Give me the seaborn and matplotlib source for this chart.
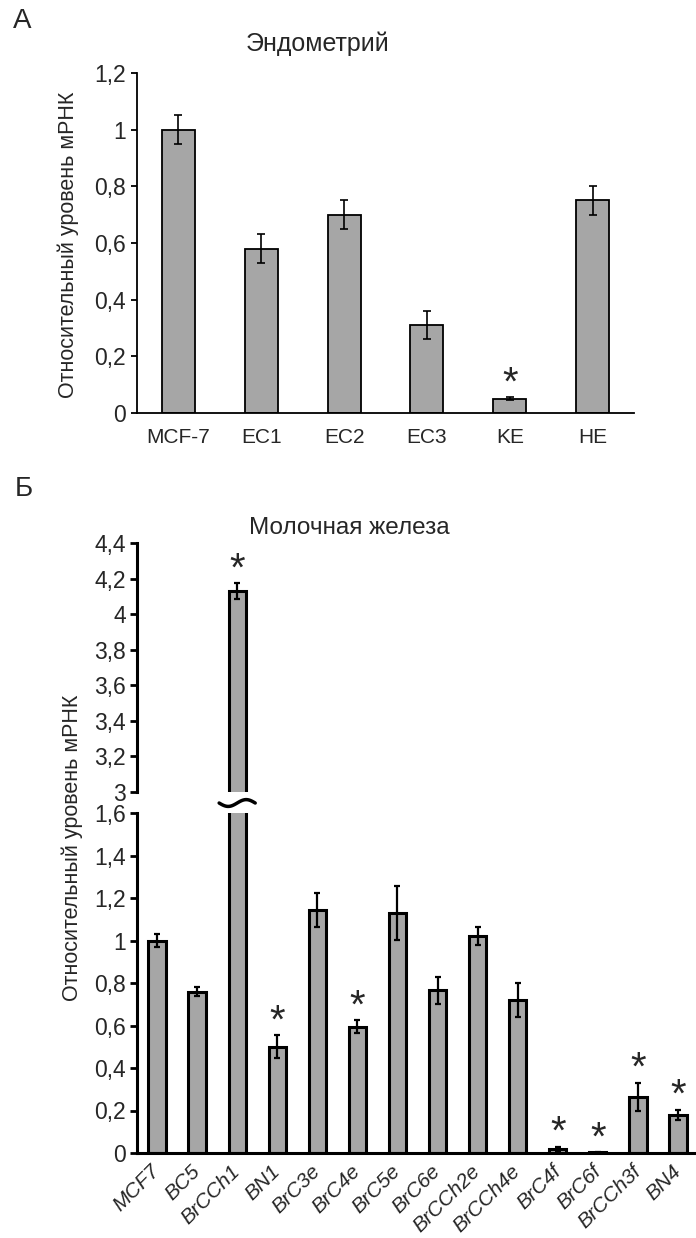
import numpy as np
import pandas as pd
import matplotlib
matplotlib.use("Agg")
import matplotlib.pyplot as plt
from matplotlib.ticker import FixedLocator, FuncFormatter
import seaborn as sns

# ---------------- data ----------------
endo_labels = ["MCF-7", "EC1", "EC2", "EC3", "KE", "HE"]
endo_values = [1.00, 0.58, 0.70, 0.31, 0.05, 0.75]
endo_errors = [0.05, 0.05, 0.05, 0.05, 0.005, 0.05]
endo_signif = [False, False, False, False, True, False]

breast_labels = ["MCF7", "BC5", "BrCCh1", "BN1", "BrC3e", "BrC4e", "BrC5e",
                 "BrC6e", "BrCCh2e", "BrCCh4e", "BrC4f", "BrC6f", "BrCCh3f", "BN4"]
breast_values = [1.00, 0.76, 4.13, 0.50, 1.145, 0.595, 1.13,
                 0.765, 1.02, 0.72, 0.02, 0.003, 0.263, 0.18]
breast_errors = [0.03, 0.02, 0.045, 0.053, 0.08, 0.03, 0.127,
                 0.063, 0.043, 0.08, 0.01, 0.001, 0.067, 0.024]
breast_signif = [False, False, True, True, False, True, False,
                 False, False, False, True, True, True, True]

endo_yticks = [0, 0.2, 0.4, 0.6, 0.8, 1.0, 1.2]
low_yticks = [0, 0.2, 0.4, 0.6, 0.8, 1.0, 1.2, 1.4, 1.6]
up_yticks = [3.0, 3.2, 3.4, 3.6, 3.8, 4.0, 4.2, 4.4]

title_endo = "Эндометрий"
title_breast = "Молочная железа"
ylabel = "Относительный уровень мРНК"

# ---------------- style ----------------
sns.set_style("white")
plt.rcParams["font.family"] = ["Liberation Sans", "DejaVu Sans"]

BAR = "#a6a6a6"
W, H = 696, 1238
fig = plt.figure(figsize=(W / 100, H / 100), dpi=100)


def fx(px):
    return px / W


def fy(py):
    return 1 - py / H


comma = FuncFormatter(lambda v, p: f"{round(v, 3):g}".replace(".", ","))

# ---------------- panel A ----------------
axA = fig.add_axes([fx(137), fy(413), fx(634 - 137), (413 - 73) / H])
dfA = pd.DataFrame({"cat": endo_labels, "val": endo_values})
sns.barplot(data=dfA, x="cat", y="val", color=BAR, saturation=1, width=0.4,
            edgecolor="black", linewidth=1.3, errorbar=None, ax=axA)
axA.errorbar(np.arange(len(endo_values)), endo_values, yerr=endo_errors,
             fmt="none", ecolor="black", elinewidth=1.2, capsize=3, capthick=1.2, zorder=3)
axA.set_xlim(-0.5, len(endo_labels) - 0.5)
axA.set_ylim(0, 1.2)
axA.yaxis.set_major_locator(FixedLocator(endo_yticks))
axA.yaxis.set_major_formatter(comma)
axA.set_xticks(np.arange(len(endo_labels)))
axA.set_xticklabels(endo_labels)
axA.set_xticks(np.arange(len(endo_labels) + 1) - 0.5, minor=True)
axA.tick_params(axis="x", which="major", length=0, labelsize=15, pad=11)
axA.tick_params(axis="x", which="minor", length=5, width=1.3, direction="out", color="black")
axA.tick_params(axis="y", length=4, width=1.3, direction="out", labelsize=16.5, pad=4,
                left=True, color="black")
axA.set_xlabel("")
axA.set_ylabel("")
for s in ["top", "right"]:
    axA.spines[s].set_visible(False)
for s in ["left", "bottom"]:
    axA.spines[s].set_linewidth(1.3)
    axA.spines[s].set_color("black")
for i, sig in enumerate(endo_signif):
    if sig:
        axA.annotate("*", xy=(i, endo_values[i] + endo_errors[i]), xytext=(0, 2),
                     textcoords="offset points", ha="center", va="baseline", fontsize=29)

fig.text(fx(68), fy(245), ylabel, rotation=90, ha="center", va="center", fontsize=15.5)
fig.text(fx(318), fy(44), title_endo, ha="center", va="center", fontsize=18)
fig.text(fx(22), fy(21), "А", ha="center", va="center", fontsize=20)

# ---------------- panel Б ----------------
axL = fig.add_axes([fx(137), fy(1153), fx(698 - 137), (1153 - 813) / H])
axU = fig.add_axes([fx(137), fy(792), fx(698 - 137), (792 - 543) / H])
dfB = pd.DataFrame({"cat": breast_labels, "val": breast_values})
xb = np.arange(len(breast_labels))
for ax in (axL, axU):
    sns.barplot(data=dfB, x="cat", y="val", color=BAR, saturation=1, width=0.43,
                edgecolor="black", linewidth=2.2, errorbar=None, ax=ax)
    ax.errorbar(xb, breast_values, yerr=breast_errors, fmt="none", ecolor="black",
                elinewidth=1.6, capsize=2.2, capthick=1.6, zorder=3)
    ax.set_xlim(-0.5, len(breast_labels) - 0.5)
    ax.set_xlabel("")
    ax.set_ylabel("")
    ax.yaxis.set_major_formatter(comma)
    ax.tick_params(axis="y", length=5, width=2, direction="out", labelsize=16.5, pad=3,
                   left=True, color="black")
    for s in ["top", "right"]:
        ax.spines[s].set_visible(False)
    ax.spines["left"].set_linewidth(2.2)
    ax.spines["left"].set_color("black")

axL.set_ylim(low_yticks[0], low_yticks[-1])
axL.yaxis.set_major_locator(FixedLocator(low_yticks))
axU.set_ylim(up_yticks[0], up_yticks[-1])
axU.yaxis.set_major_locator(FixedLocator(up_yticks))

axU.spines["bottom"].set_visible(False)
axU.set_xticks([])
axU.tick_params(axis="x", length=0, labelbottom=False)

axL.spines["bottom"].set_linewidth(2.2)
axL.spines["bottom"].set_color("black")
axL.set_xticks(xb)
axL.set_xticklabels(breast_labels, rotation=45, ha="right", va="center",
                    rotation_mode="anchor", fontstyle="italic")
axL.set_xticks(np.arange(len(breast_labels) + 1) - 0.5, minor=True)
axL.tick_params(axis="x", which="major", length=0, labelsize=15, pad=11)
axL.tick_params(axis="x", which="minor", length=6, width=2.2, direction="out", color="black")

for i, sig in enumerate(breast_signif):
    if sig:
        top = breast_values[i] + breast_errors[i]
        ax = axL if top <= low_yticks[-1] else axU
        ax.annotate("*", xy=(i, top), xytext=(0, 2), textcoords="offset points",
                    ha="center", va="baseline", fontsize=29)

# axis break mark on the tall bar
ib = int(np.argmax(breast_values))
wx = np.linspace(-0.45, 0.45, 60)
wy = low_yticks[-1] + 0.047 + 0.016 * np.sin(wx / 0.45 * np.pi)
axL.plot(ib + wx, wy, color="white", lw=6, clip_on=False, zorder=5, solid_capstyle="butt")
axL.plot(ib + wx, wy, color="black", lw=2.5, clip_on=False, zorder=6)

fig.text(fx(72), fy(848), ylabel, rotation=90, ha="center", va="center", fontsize=15.5)
fig.text(fx(349), fy(528), title_breast, ha="center", va="center", fontsize=17.5)
fig.text(fx(24), fy(489), "Б", ha="center", va="center", fontsize=20)

fig.savefig("out.png", dpi=100, facecolor="white")
